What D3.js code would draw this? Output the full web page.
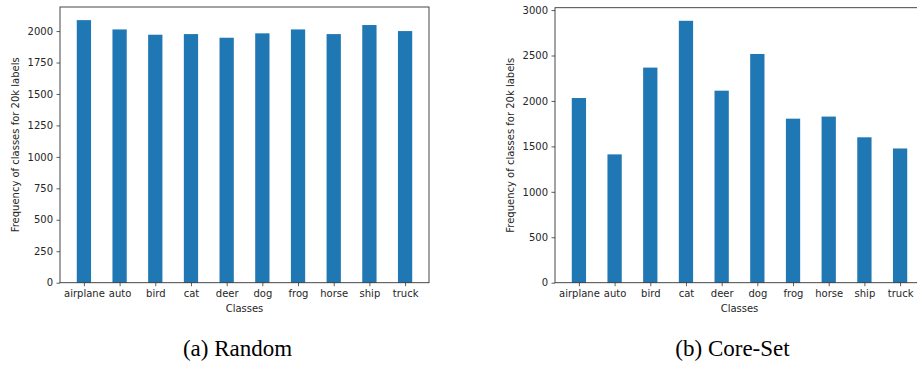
<!DOCTYPE html>
<html>
<head>
<meta charset="utf-8">
<script src="https://cdn.jsdelivr.net/npm/d3@7"></script>
<style>
  body { margin: 0; background: #fff; }
  svg { display: block; }
</style>
</head>
<body>
<svg id="chart" width="917" height="365"></svg>
<script>
// CIFAR-10 class names
const classes = ["airplane", "auto", "bird", "cat", "deer", "dog", "frog", "horse", "ship", "truck"];

// class counts for 20k labels
const randomCounts = [2087, 2013, 1971, 1976, 1947, 1982, 2013, 1976, 2048, 2000];
const coresetCounts = [2032, 1412, 2367, 2882, 2113, 2517, 1805, 1828, 1600, 1477];

const randomTicks = [0, 250, 500, 750, 1000, 1250, 1500, 1750, 2000];
const coresetTicks = [0, 500, 1000, 1500, 2000, 2500, 3000];

const captions = ["(a) Random", "(b) Core-Set"];

const svg = d3.select("#chart");
const barColor = "#1f77b4";
const font = "DejaVu Sans, sans-serif";

// one panel = matplotlib-like bar chart
function panel(left, top, width, height, counts, ticks, caption) {
    const g = svg.append("g");

    // matplotlib default x margins around bar width 0.4
    const x = d3.scaleLinear().domain([-0.67, 9.67]).range([left, left + width]);
    const y = d3.scaleLinear().domain([0, d3.max(counts) * 1.05]).range([top + height, top]);
    const bw = x(0.4) - x(0);

    g.append("g")
        .selectAll("rect")
        .data(counts)
        .join("rect")
        .attr("x", (d, i) => x(i) - bw / 2)
        .attr("y", d => y(d))
        .attr("width", bw)
        .attr("height", d => y(0) - y(d))
        .attr("fill", barColor);

    // y axis
    const yAxis = g.append("g")
        .attr("transform", `translate(${left},0)`)
        .call(d3.axisLeft(y).tickValues(ticks).tickSize(3.5).tickPadding(3.5).tickFormat(d3.format("d")));
    yAxis.select(".domain").remove();

    // x axis
    const xAxis = g.append("g")
        .attr("transform", `translate(0,${top + height})`)
        .call(d3.axisBottom(x).tickValues(d3.range(classes.length)).tickSize(3.5).tickPadding(3.5)
            .tickFormat(i => classes[i]));
    xAxis.select(".domain").remove();

    [yAxis, xAxis].forEach(a => {
        a.selectAll("text").attr("font-family", font).attr("font-size", 10).attr("fill", "#262626");
        a.selectAll("line").attr("stroke", "#333").attr("stroke-width", 0.8);
    });

    // frame
    g.append("rect")
        .attr("x", left)
        .attr("y", top)
        .attr("width", width)
        .attr("height", height)
        .attr("fill", "none")
        .attr("stroke", "#333")
        .attr("stroke-width", 0.9);

    g.append("text")
        .attr("x", left + width / 2)
        .attr("y", top + height + 29)
        .attr("text-anchor", "middle")
        .attr("font-family", font)
        .attr("font-size", 10)
        .attr("fill", "#262626")
        .text("Classes");

    g.append("text")
        .attr("transform", `translate(${left - 41},${top + height / 2}) rotate(-90)`)
        .attr("text-anchor", "middle")
        .attr("font-family", font)
        .attr("font-size", 10)
        .attr("fill", "#262626")
        .text("Frequency of classes for 20k labels");

    g.append("text")
        .attr("x", left + width / 2 - 7)
        .attr("y", 356)
        .attr("text-anchor", "middle")
        .attr("font-family", "Liberation Serif, Times New Roman, serif")
        .attr("font-size", 23)
        .attr("fill", "#000")
        .text(caption);
}

panel(60, 7, 369, 275.7, randomCounts, randomTicks, captions[0]);
panel(555, 7.7, 369, 275, coresetCounts, coresetTicks, captions[1]);
</script>
</body>
</html>
